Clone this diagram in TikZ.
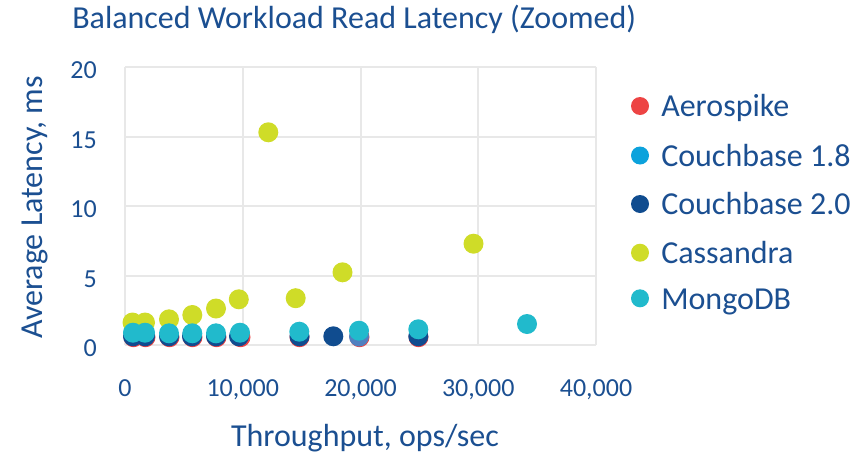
\documentclass[tikz,border=0pt]{standalone}
\usepackage{fontspec}
\setmainfont{Carlito}
\definecolor{txtblue}{RGB}{27,79,145}
\definecolor{gridgray}{RGB}{232,232,232}
\definecolor{aero}{RGB}{237,68,68}
\definecolor{cbA}{RGB}{12,162,220}
\definecolor{cbAmid}{RGB}{80,128,192}
\definecolor{cbB}{RGB}{16,76,143}
\definecolor{cass}{RGB}{207,220,40}
\definecolor{mongo}{RGB}{33,186,204}
\begin{document}
\begin{tikzpicture}[x=0.75pt,y=-0.75pt,
  gridline/.style={draw=gridgray,line width=1.5pt},
  bigtext/.style={text=txtblue,font=\fontsize{24}{28}\selectfont,inner sep=0pt},
  ticktext/.style={text=txtblue,font=\fontsize{19.5}{23}\selectfont,inner sep=0pt},
  dot/.style={fill=#1}]
\useasboundingbox (0,0) rectangle (867,457);
% grid
\foreach \gx in {125,242.75,360.5,478.25,596}
  \draw[gridline] (\gx,67) -- (\gx,345);
\foreach \gy in {67,136.5,206,275.5,345}
  \draw[gridline] (125,\gy) -- (596,\gy);
% title and axis titles
\node[bigtext,anchor=base west] (title) at (72,28.5) {Balanced Workload Read Latency (Zoomed)};
\node[bigtext,anchor=base] (xtitle) at (365,446) {Throughput, ops/sec};
\node[bigtext,anchor=base,rotate=90] (ytitle) at (42,207.5) {Average Latency, ms};
% y ticks
\node[ticktext,anchor=base east] (y20) at (97,78.5) {20};
\node[ticktext,anchor=base east] (y15) at (97,148) {15};
\node[ticktext,anchor=base east] (y10) at (97,217.5) {10};
\node[ticktext,anchor=base east] (y5) at (97,287) {5};
\node[ticktext,anchor=base east] (y0) at (97,356.5) {0};
% x ticks
\node[ticktext,anchor=base] (x0) at (125,396.5) {0};
\node[ticktext,anchor=base] (x10) at (242.75,396.5) {10,000};
\node[ticktext,anchor=base] (x20) at (360.5,396.5) {20,000};
\node[ticktext,anchor=base] (x30) at (478.25,396.5) {30,000};
\node[ticktext,anchor=base] (x40) at (596,396.5) {40,000};
% Aerospike
\foreach \px in {133,145,169,192,216,240,299,359,418}
  \fill[dot=aero] (\px+0.5,337.2) circle[radius=7.5pt];
% Couchbase 1.8
\fill[dot=cbAmid] (359,336.5) circle[radius=7.5pt];
% Couchbase 2.0
\foreach \px in {133,145,169,192,216,239,299.5,333.3,418.3}
  \fill[dot=cbB] (\px,336.3) circle[radius=7.5pt];
% Cassandra
\foreach \px/\py in {132.5/322.5,145/322.5,169/319.3,192.3/315,216/308.5,238.8/299.3,268.3/132.3,295.7/298.2,342.5/272.3,473.5/243.7}
  \fill[dot=cass] (\px,\py) circle[radius=7.5pt];
% MongoDB
\foreach \px/\py in {133/332.7,145/332.7,169/333.3,192.3/333.3,216/333.3,240/332.7,299.3/331.7,359/330.7,418.3/329.3,527/324}
  \fill[dot=mongo] (\px,\py) circle[radius=7.5pt];
% legend
\fill[dot=aero] (640,106) circle[radius=6.75pt];
\node[bigtext,anchor=base west] (lg1) at (661,116.7) {Aerospike};
\fill[dot=cbA] (640,155.5) circle[radius=6.75pt];
\node[bigtext,anchor=base west] (lg2) at (661,166.2) {Couchbase 1.8};
\fill[dot=cbB] (640,204) circle[radius=6.75pt];
\node[bigtext,anchor=base west] (lg3) at (661,214.7) {Couchbase 2.0};
\fill[dot=cass] (640,252.7) circle[radius=6.75pt];
\node[bigtext,anchor=base west] (lg4) at (661,263.4) {Cassandra};
\fill[dot=mongo] (640,298.3) circle[radius=6.75pt];
\node[bigtext,anchor=base west] (lg5) at (661,309) {MongoDB};
\end{tikzpicture}
\end{document}
